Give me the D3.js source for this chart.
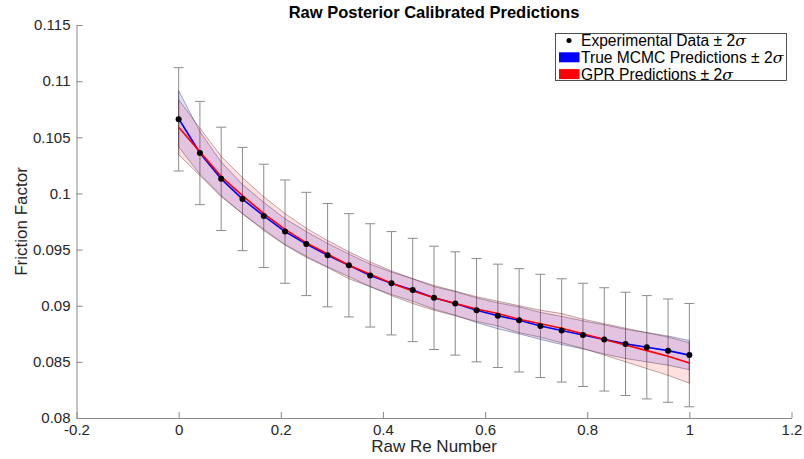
<!DOCTYPE html>
<html>
<head>
<meta charset="utf-8">
<script src="https://cdn.jsdelivr.net/npm/d3@7"></script>
<style>
  body { margin: 0; background: #fff; }
  svg { font-family: "Liberation Sans", Arial, Helvetica, sans-serif; }
</style>
</head>
<body>
<svg id="chart" width="804" height="459"></svg>
<script>
// raw Re number, 25 evenly spaced runs
const reNumber = d3.range(25).map(i => i / 24);

// experimental friction factor and its 2-sigma half width
const expData = [0.1066, 0.1036, 0.1013, 0.0995, 0.0980, 0.0966, 0.0955, 0.0945, 0.0936, 0.0927,
  0.0920, 0.0914, 0.0907, 0.0902, 0.0896, 0.0891, 0.0887, 0.0882, 0.0878, 0.0874,
  0.0870, 0.0866, 0.0863, 0.0860, 0.0856];
const expErr = [0.0046, 0.0046, 0.0046, 0.0046, 0.0046, 0.0046, 0.0046, 0.0046, 0.0046, 0.0046,
  0.0046, 0.0046, 0.0046, 0.0046, 0.0046, 0.0046, 0.0046, 0.0046, 0.0046, 0.0046,
  0.0046, 0.0046, 0.0046, 0.0046, 0.0046];

// true MCMC predictions (mean, 2-sigma half width)
const mcmcMean = [0.10665, 0.1036, 0.1013, 0.0995, 0.0980, 0.0966, 0.0955, 0.0945, 0.0936, 0.0927,
  0.0920, 0.0914, 0.0907, 0.0902, 0.0896, 0.0891, 0.0887, 0.0882, 0.0878, 0.0874,
  0.0870, 0.0866, 0.0863, 0.0860, 0.0856];
const mcmcHalf = [0.0025, 0.0019, 0.0015, 0.0013, 0.0012, 0.00115, 0.0011, 0.00105, 0.001, 0.001,
  0.001, 0.001, 0.001, 0.00105, 0.0011, 0.00115, 0.0012, 0.0012, 0.00125, 0.00125,
  0.0013, 0.0013, 0.0013, 0.0013, 0.0013];

// GPR predictions (mean, 2-sigma half width)
const gprMean = [0.1059, 0.1037, 0.1015, 0.0998, 0.0982, 0.0968, 0.0956, 0.0946, 0.0936, 0.0928,
  0.0920, 0.0913, 0.0907, 0.0902, 0.0897, 0.0893, 0.0888, 0.0884, 0.0880, 0.0875,
  0.0870, 0.0865, 0.0860, 0.0855, 0.0849];
const gprHalf = [0.00245, 0.0021, 0.0018, 0.0016, 0.0015, 0.0014, 0.0013, 0.0012, 0.0012, 0.0011,
  0.0011, 0.0011, 0.0011, 0.0011, 0.0011, 0.0011, 0.0012, 0.0012, 0.0013, 0.0013,
  0.0014, 0.0015, 0.0016, 0.0017, 0.0018];

const xTicks = [-0.2, 0, 0.2, 0.4, 0.6, 0.8, 1, 1.2];
const yTicks = [0.08, 0.085, 0.09, 0.095, 0.1, 0.105, 0.11, 0.115];

const svg = d3.select("#chart");
const plotLeft = 76.5, plotRight = 791.5, plotTop = 25, plotBottom = 418;

const x = d3.scaleLinear().domain([-0.2, 1.2]).range([plotLeft, plotRight]);
const y = d3.scaleLinear().domain([0.08, 0.115]).range([plotBottom, plotTop]);

// axes (matlab style: ticks pointing inward, box off)
const axisColor = "#8a8a8a";
const xAxis = svg.append("g")
  .attr("transform", `translate(0,${plotBottom})`)
  .call(d3.axisBottom(x).tickValues(xTicks).tickSize(-6).tickSizeOuter(0).tickPadding(6)
    .tickFormat(d => String(+d.toFixed(1))));
const yAxis = svg.append("g")
  .attr("transform", `translate(${plotLeft},0)`)
  .call(d3.axisLeft(y).tickValues(yTicks).tickSize(-6).tickSizeOuter(0).tickPadding(6)
    .tickFormat(d => String(+d.toFixed(3))));

[xAxis, yAxis].forEach(g => {
  g.select(".domain").attr("stroke", axisColor);
  g.selectAll(".tick line").attr("stroke", axisColor);
  g.selectAll(".tick text").attr("fill", "#262626").attr("font-size", 15)
    .attr("font-family", "'Liberation Sans', Arial, sans-serif");
});

const idx = d3.range(reNumber.length);

// error bars
const eb = svg.append("g").attr("stroke", "#8c8c8c").attr("stroke-width", 1);
idx.forEach(i => {
  const cx = x(reNumber[i]);
  const y0 = y(expData[i] - expErr[i]), y1 = y(expData[i] + expErr[i]);
  eb.append("line").attr("x1", cx).attr("x2", cx).attr("y1", y0).attr("y2", y1);
  eb.append("line").attr("x1", cx - 5).attr("x2", cx + 5).attr("y1", y0).attr("y2", y0);
  eb.append("line").attr("x1", cx - 5).attr("x2", cx + 5).attr("y1", y1).attr("y2", y1);
});

// uncertainty bands
const area = (mean, half) => d3.area()
  .x(i => x(reNumber[i]))
  .y0(i => y(mean[i] - half[i]))
  .y1(i => y(mean[i] + half[i]));

svg.append("path").datum(idx)
  .attr("d", area(mcmcMean, mcmcHalf))
  .attr("fill", "#0000ff").attr("fill-opacity", 0.12)
  .attr("stroke", "#1a1a50").attr("stroke-opacity", 0.55).attr("stroke-width", 0.7);
svg.append("path").datum(idx)
  .attr("d", area(gprMean, gprHalf))
  .attr("fill", "#ff0000").attr("fill-opacity", 0.12)
  .attr("stroke", "#501a1a").attr("stroke-opacity", 0.55).attr("stroke-width", 0.7);

// mean lines
const line = mean => d3.line().x(i => x(reNumber[i])).y(i => y(mean[i]));
svg.append("path").datum(idx).attr("d", line(mcmcMean))
  .attr("fill", "none").attr("stroke", "#0000ff").attr("stroke-width", 1.6);
svg.append("path").datum(idx).attr("d", line(gprMean))
  .attr("fill", "none").attr("stroke", "#ff0000").attr("stroke-width", 1.6);

// experimental points
svg.append("g").selectAll("circle").data(idx).join("circle")
  .attr("cx", i => x(reNumber[i]))
  .attr("cy", i => y(expData[i]))
  .attr("r", 3).attr("fill", "#000");

// title and labels
svg.append("text")
  .attr("x", (plotLeft + plotRight) / 2).attr("y", 18)
  .attr("text-anchor", "middle").attr("font-weight", "bold").attr("font-size", 16.5)
  .text("Raw Posterior Calibrated Predictions");
svg.append("text")
  .attr("x", (plotLeft + plotRight) / 2).attr("y", 452)
  .attr("text-anchor", "middle").attr("font-size", 17).attr("fill", "#262626")
  .text("Raw Re Number");
svg.append("text")
  .attr("transform", `translate(27,${(plotTop + plotBottom) / 2}) rotate(-90)`)
  .attr("text-anchor", "middle").attr("font-size", 17).attr("fill", "#262626")
  .text("Friction Factor");

// legend
const legend = svg.append("g");
legend.append("rect")
  .attr("x", 555.5).attr("y", 33.5).attr("width", 231).attr("height", 47)
  .attr("fill", "#fff").attr("stroke", "#262626").attr("stroke-width", 0.8);

const legendItems = [
  { label: "Experimental Data", kind: "dot" },
  { label: "True MCMC Predictions", kind: "rect", color: "#0000ff" },
  { label: "GPR Predictions", kind: "rect", color: "#ff0000" }
];
legendItems.forEach((d, i) => {
  const cy = 40.5 + i * 16.8;
  if (d.kind === "dot") {
    legend.append("circle").attr("cx", 569).attr("cy", cy).attr("r", 2.5).attr("fill", "#000");
  } else {
    legend.append("rect").attr("x", 559).attr("y", cy - 5).attr("width", 20.5).attr("height", 10)
      .attr("fill", d.color);
  }
  const t = legend.append("text")
    .attr("x", 581).attr("y", cy + 5.5)
    .attr("font-size", 15.6).attr("fill", "#000");
  t.append("tspan").text(d.label + " \u00b1 2");
  t.append("tspan").attr("font-style", "italic").attr("font-family", "'DejaVu Serif', serif").text("\u03c3");
});
</script>
</body>
</html>
